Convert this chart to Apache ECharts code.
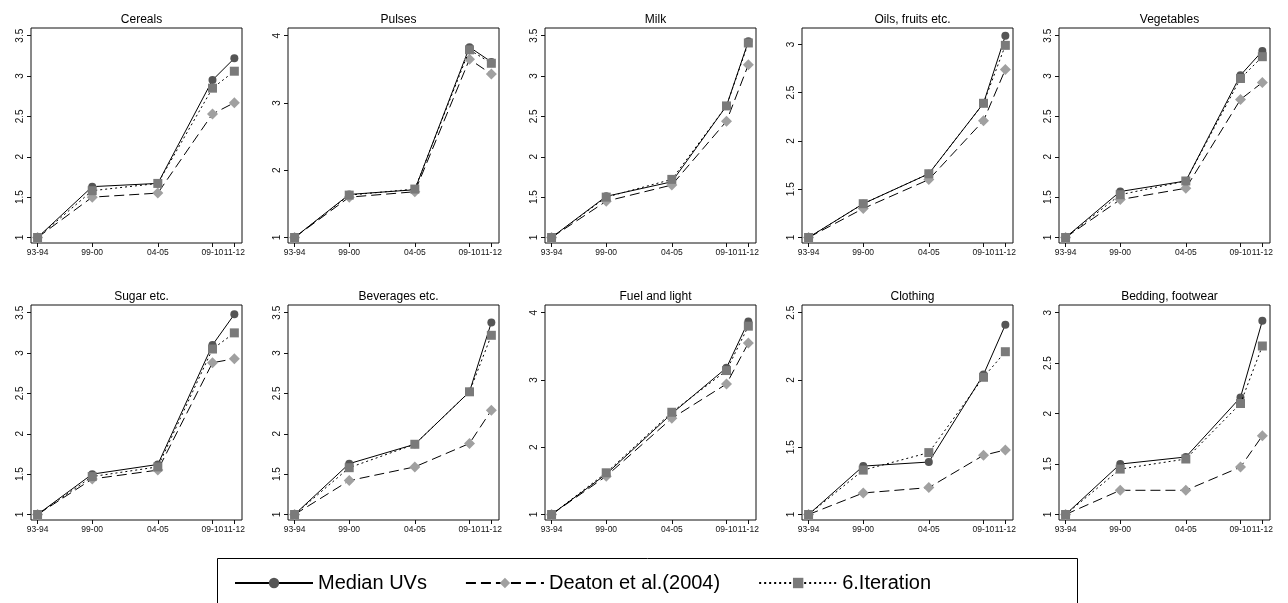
<!DOCTYPE html>
<html>
<head>
<meta charset="utf-8">
<script src="https://cdn.jsdelivr.net/npm/echarts@6/dist/echarts.min.js"></script>
<style>
html,body{margin:0;padding:0;background:#fff;}
#c{width:1288px;height:603px;}
</style>
</head>
<body>
<div id="c"></div>
<script>
// NSS rounds used as x positions and their labels
const rounds = [50, 55, 61, 66, 68];
const roundLabels = ['93-94', '99-00', '04-05', '09-10', '11-12'];
const seriesNames = ['Median UVs', 'Deaton et al.(2004)', '6.Iteration'];
const panelTitles = ['Cereals', 'Pulses', 'Milk', 'Oils, fruits etc.', 'Vegetables',
  'Sugar etc.', 'Beverages etc.', 'Fuel and light', 'Clothing', 'Bedding, footwear'];

// values per panel
const cerealsMedian = [1, 1.63, 1.67, 2.95, 3.22];
const cerealsDeaton = [1, 1.50, 1.55, 2.53, 2.67];
const cerealsIter   = [1, 1.58, 1.67, 2.85, 3.06];

const pulsesMedian = [1, 1.64, 1.71, 3.83, 3.61];
const pulsesDeaton = [1, 1.60, 1.68, 3.65, 3.43];
const pulsesIter   = [1, 1.63, 1.72, 3.79, 3.59];

const milkMedian = [1, 1.51, 1.69, 2.63, 3.43];
const milkDeaton = [1, 1.45, 1.65, 2.44, 3.14];
const milkIter   = [1, 1.50, 1.72, 2.63, 3.41];

const oilsMedian = [1, 1.35, 1.66, 2.39, 3.09];
const oilsDeaton = [1, 1.30, 1.60, 2.21, 2.74];
const oilsIter   = [1, 1.35, 1.66, 2.39, 2.99];

const vegMedian = [1, 1.57, 1.70, 3.01, 3.31];
const vegDeaton = [1, 1.47, 1.61, 2.71, 2.92];
const vegIter   = [1, 1.53, 1.70, 2.97, 3.24];

const sugarMedian = [1, 1.50, 1.62, 3.10, 3.48];
const sugarDeaton = [1, 1.44, 1.55, 2.88, 2.93];
const sugarIter   = [1, 1.47, 1.59, 3.05, 3.25];

const bevMedian = [1, 1.63, 1.87, 2.52, 3.38];
const bevDeaton = [1, 1.42, 1.59, 1.88, 2.29];
const bevIter   = [1, 1.58, 1.87, 2.52, 3.22];

const fuelMedian = [1, 1.60, 2.50, 3.18, 3.87];
const fuelDeaton = [1, 1.57, 2.43, 2.94, 3.55];
const fuelIter   = [1, 1.62, 2.52, 3.14, 3.80];

const clothMedian = [1, 1.36, 1.39, 2.04, 2.41];
const clothDeaton = [1, 1.16, 1.20, 1.44, 1.48];
const clothIter   = [1, 1.33, 1.46, 2.02, 2.21];

const bedMedian = [1, 1.50, 1.57, 2.16, 2.92];
const bedDeaton = [1, 1.24, 1.24, 1.47, 1.78];
const bedIter   = [1, 1.45, 1.55, 2.10, 2.67];

// y tick labels per panel
const ticksHalfTo35 = [1, 1.5, 2, 2.5, 3, 3.5];
const ticksOneTo4 = [1, 2, 3, 4];
const ticksHalfTo3 = [1, 1.5, 2, 2.5, 3];
const ticksHalfTo25 = [1, 1.5, 2, 2.5];

const panelData = [
  [cerealsMedian, cerealsDeaton, cerealsIter],
  [pulsesMedian, pulsesDeaton, pulsesIter],
  [milkMedian, milkDeaton, milkIter],
  [oilsMedian, oilsDeaton, oilsIter],
  [vegMedian, vegDeaton, vegIter],
  [sugarMedian, sugarDeaton, sugarIter],
  [bevMedian, bevDeaton, bevIter],
  [fuelMedian, fuelDeaton, fuelIter],
  [clothMedian, clothDeaton, clothIter],
  [bedMedian, bedDeaton, bedIter]
];
const panelTicks = [ticksHalfTo35, ticksOneTo4, ticksHalfTo35, ticksHalfTo3, ticksHalfTo35,
  ticksHalfTo35, ticksHalfTo35, ticksOneTo4, ticksHalfTo25, ticksHalfTo3];

const FONT = '"Liberation Sans", Arial, Helvetica, sans-serif';
const seriesStyles = [
  {symbol: 'circle', symbolSize: 8, color: '#555555', lineType: 'solid'},
  {symbol: 'diamond', symbolSize: 11, color: '#a0a0a0', lineType: [10, 5]},
  {symbol: 'rect', symbolSize: 9, color: '#7a7a7a', lineType: [2, 3]}
];

const grids = [], xAxes = [], yAxes = [], series = [], titles = [];
const GL = 31, GW = 211, GSTEP = 257, GT = 28, GH = 215, RSTEP = 277;
const padBottom = 5.5, padTop = 7.7;

panelData.forEach((sets, i) => {
  const col = i % 5, row = Math.floor(i / 5);
  const left = GL + GSTEP * col, top = GT + RSTEP * row;
  grids.push({left: left, top: top, width: GW, height: GH, show: true,
    borderColor: '#111', borderWidth: 1, backgroundColor: '#fff'});
  titles.push({text: panelTitles[i], left: left + GW / 2, top: top - 19, textAlign: 'center',
    textStyle: {fontFamily: FONT, fontSize: 12, fontWeight: 'normal', color: '#000'}});
  const ticks = panelTicks[i];
  let hi = ticks[ticks.length - 1];
  sets.forEach(s => s.forEach(v => { if (v > hi) hi = v; }));
  const lo = 1;
  const ppu = (GH - padBottom - padTop) / (hi - lo);
  xAxes.push({type: 'value', gridIndex: i, min: 49.4, max: 68.7,
    axisLine: {show: false}, splitLine: {show: false},
    axisTick: {show: true, length: 4, lineStyle: {color: '#111'}, customValues: rounds},
    axisLabel: {show: true, customValues: rounds, margin: 5, fontFamily: FONT, fontSize: 8.5, color: '#111',
      hideOverlap: false,
      formatter: v => roundLabels[rounds.indexOf(v)] || ''}
  });
  yAxes.push({type: 'value', gridIndex: i, min: lo - padBottom / ppu, max: hi + padTop / ppu,
    axisLine: {show: false}, splitLine: {show: false},
    axisTick: {show: true, length: 4, lineStyle: {color: '#111'}, customValues: ticks},
    axisLabel: {show: true, customValues: ticks, rotate: 90, margin: 6, fontFamily: FONT, fontSize: 10, color: '#111',
      formatter: v => String(v)}
  });
  sets.forEach((vals, k) => {
    const st = seriesStyles[k];
    series.push({
      name: seriesNames[k], type: 'line', xAxisIndex: i, yAxisIndex: i,
      data: rounds.map((r, j) => [r, vals[j]]),
      symbol: st.symbol, symbolSize: st.symbolSize, showSymbol: true,
      lineStyle: {color: '#000', width: 1, type: st.lineType},
      itemStyle: {color: st.color},
      z: 2 + k, animation: false, silent: true
    });
  });
});

const chart = echarts.init(document.getElementById('c'), null, {renderer: 'canvas'});
chart.setOption({
  animation: false,
  backgroundColor: '#fff',
  title: titles,
  grid: grids,
  xAxis: xAxes,
  yAxis: yAxes,
  series: series,
  legend: {
    data: seriesNames, left: 229, top: 568, itemWidth: 78, itemHeight: 13, itemGap: 38,
    textStyle: {fontFamily: FONT, fontSize: 20, color: '#000'},
    selectedMode: false
  },
  graphic: [{type: 'rect', shape: {x: 217.5, y: 558.5, width: 860, height: 50},
    style: {fill: 'none', stroke: '#000', lineWidth: 1}, z: -1}]
});
</script>
</body>
</html>
